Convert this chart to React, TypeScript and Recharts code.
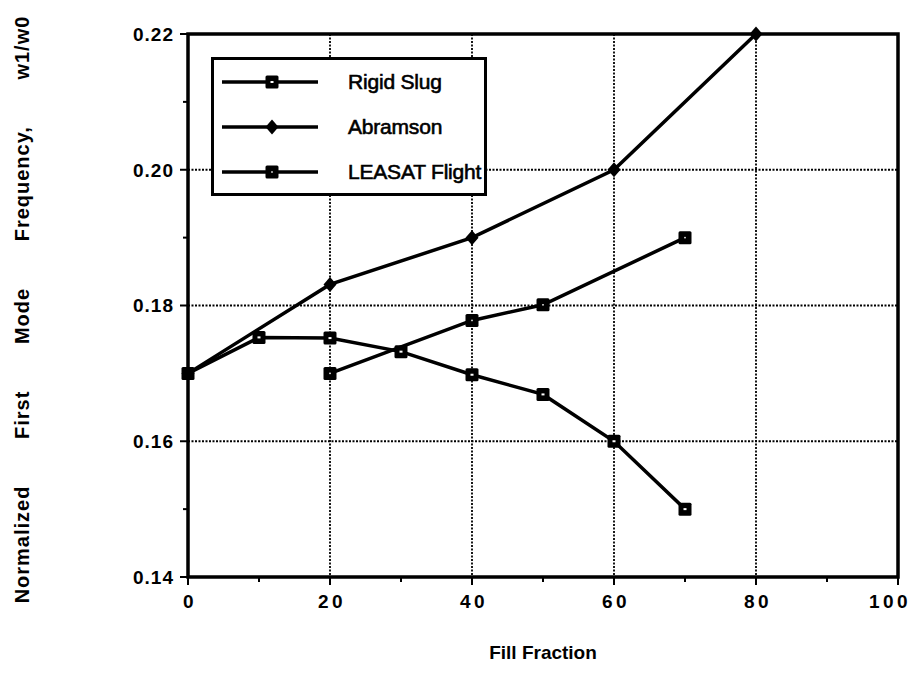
import React from 'react';
import { LineChart, Line, XAxis, YAxis, CartesianGrid, ReferenceArea, Legend } from 'recharts';

// fill fraction (%) vs normalized first mode frequency
const rigidX = [0, 10, 20, 30, 40, 50, 60, 70];
const rigidY = [0.17, 0.1753, 0.1752, 0.1732, 0.1698, 0.1669, 0.16, 0.15];

const abramsonX = [0, 20, 40, 60, 80];
const abramsonY = [0.17, 0.1831, 0.19, 0.2, 0.22];

const leasatX = [20, 40, 50, 70];
const leasatY = [0.17, 0.1778, 0.1801, 0.19];

const xTicks = [0, 10, 20, 30, 40, 50, 60, 70, 80, 90, 100];
const yTicks = [0.14, 0.15, 0.16, 0.17, 0.18, 0.19, 0.2, 0.21, 0.22];
const xGrid = [20, 40, 60, 80];
const yGrid = [0.16, 0.18, 0.2];

const seriesNames = ['Rigid Slug', 'Abramson', 'LEASAT Flight'];

const toRows = (xs: number[], ys: number[]) => xs.map((x, i) => ({ x, y: ys[i] }));
const rigidData = toRows(rigidX, rigidY);
const abramsonData = toRows(abramsonX, abramsonY);
const leasatData = toRows(leasatX, leasatY);

const FONT = '"Liberation Sans", Arial, Helvetica, sans-serif';

const HollowSquare = ({ cx, cy }: { cx: number; cy: number }) => (
  <g>
    <rect x={cx - 6.5} y={cy - 6.5} width={13} height={13} rx={1.5} fill="#000" />
    <rect x={cx - 1.5} y={cy - 1} width={3} height={2} fill="#fff" />
  </g>
);

const Diamond = ({ cx, cy }: { cx: number; cy: number }) => (
  <polygon points={`${cx},${cy - 7.5} ${cx + 6.5},${cy} ${cx},${cy + 7.5} ${cx - 6.5},${cy}`} fill="#000" />
);

const SolidSquare = ({ cx, cy }: { cx: number; cy: number }) => (
  <g>
    <rect x={cx - 6.5} y={cy - 6.5} width={13} height={13} rx={1.5} fill="#000" />
    <rect x={cx - 0.75} y={cy - 0.75} width={1.5} height={1.5} fill="#fff" />
  </g>
);

const markers = [HollowSquare, Diamond, SolidSquare];

const dotFn = (Marker: any) => (props: any) => {
  const { cx, cy, index } = props;
  return (
    <g key={`d-${index}`}>
      <Marker cx={cx} cy={cy} />
    </g>
  );
};

const XTick = (props: any) => {
  const { x, y, payload } = props;
  const major = payload.value % 20 === 0;
  const shift = payload.value === 100 ? -8 : 2;
  return (
    <g>
      <line x1={x} x2={x} y1={y} y2={y + (major ? 8 : 5)} stroke="#000" strokeWidth={2} />
      {major && (
        <text x={x + shift} y={y + 31} textAnchor="middle" fontFamily={FONT} fontWeight="bold" fontSize={19} letterSpacing={3.5} fill="#000">
          {payload.value}
        </text>
      )}
    </g>
  );
};

const YTick = (props: any) => {
  const { x, y, payload } = props;
  const major = Math.round(payload.value * 100) % 2 === 0;
  return (
    <g>
      <line x1={x} x2={x - (major ? 8 : 5)} y1={y} y2={y} stroke="#000" strokeWidth={2} />
      {major && (
        <text x={x - 14} y={y} dy="0.36em" textAnchor="end" fontFamily={FONT} fontWeight="bold" fontSize={19} letterSpacing={1} fill="#000">
          {payload.value.toFixed(2)}
        </text>
      )}
    </g>
  );
};

const YLabel = (props: any) => {
  const vb = props.viewBox || { y: 34, height: 543 };
  const cy = vb.y + vb.height / 2 + 4;
  return (
    <text
      transform={`translate(22, ${cy}) rotate(-90)`}
      textAnchor="middle"
      dominantBaseline="central"
      fontFamily={FONT}
      fontWeight="bold"
      fontSize={20}
      letterSpacing={1}
      style={{ wordSpacing: '40px' }}
      fill="#000"
    >
      Normalized First Mode Frequency, w1/w0
    </text>
  );
};

const LegendBox = () => (
  <div
    style={{
      position: 'relative',
      width: 276,
      height: 139,
      border: '3px solid #000',
      boxSizing: 'border-box',
      background: '#fff',
      fontFamily: FONT,
    }}
  >
    {seriesNames.map((name, i) => {
      const Marker = markers[i];
      return (
        <div key={name} style={{ position: 'absolute', left: 0, top: 10 + i * 45, height: 24, width: 270 }}>
          <svg width={110} height={24} style={{ position: 'absolute', left: 4, top: 0 }}>
            <line x1={4} x2={100} y1={12} y2={12} stroke="#000" strokeWidth={3.5} />
            <Marker cx={54} cy={12} />
          </svg>
          <span
            style={{
              position: 'absolute',
              left: 134,
              top: 0,
              fontSize: 21,
              lineHeight: '24px',
              color: '#000',
              whiteSpace: 'nowrap',
              WebkitTextStroke: '0.6px #000',
              letterSpacing: -0.2,
            }}
          >
            {name}
          </span>
        </div>
      );
    })}
  </div>
);

export default function App() {
  return (
    <div style={{ position: 'absolute', left: 0, top: 0, background: '#fff' }}>
      <LineChart width={923} height={683} margin={{ top: 34, right: 25, bottom: 16, left: 128 }}>
        <CartesianGrid
          stroke="#000"
          strokeWidth={1.8}
          strokeDasharray="2 1.5"
          verticalValues={xGrid}
          horizontalValues={yGrid}
        />
        <XAxis
          type="number"
          dataKey="x"
          domain={[0, 100]}
          ticks={xTicks}
          interval={0}
          height={90}
          tickSize={0}
          tickMargin={0}
          axisLine={false}
          tickLine={false}
          tick={<XTick />}
          label={{
            value: 'Fill Fraction',
            position: 'insideBottom',
            offset: 8,
            fontFamily: FONT,
            fontWeight: 'bold',
            fontSize: 19,
            fill: '#000',
          }}
        />
        <YAxis
          type="number"
          domain={[0.14, 0.22]}
          ticks={yTicks}
          interval={0}
          width={60}
          tickSize={0}
          tickMargin={0}
          axisLine={false}
          tickLine={false}
          tick={<YTick />}
          label={<YLabel />}
        />
        <ReferenceArea x1={0} x2={100} y1={0.14} y2={0.22} fill="none" stroke="#000" strokeWidth={3.5} ifOverflow="visible" />
        <Legend
          layout="horizontal"
          verticalAlign="middle"
          align="center"
          wrapperStyle={{ left: 211, top: 57, width: 276, height: 139 }}
          content={() => <LegendBox />}
        />
        <Line data={rigidData} dataKey="y" name={seriesNames[0]} stroke="#000" strokeWidth={3.5} dot={dotFn(HollowSquare)} activeDot={false} isAnimationActive={false} />
        <Line data={abramsonData} dataKey="y" name={seriesNames[1]} stroke="#000" strokeWidth={3.5} dot={dotFn(Diamond)} activeDot={false} isAnimationActive={false} />
        <Line data={leasatData} dataKey="y" name={seriesNames[2]} stroke="#000" strokeWidth={3.5} dot={dotFn(SolidSquare)} activeDot={false} isAnimationActive={false} />
      </LineChart>
    </div>
  );
}
